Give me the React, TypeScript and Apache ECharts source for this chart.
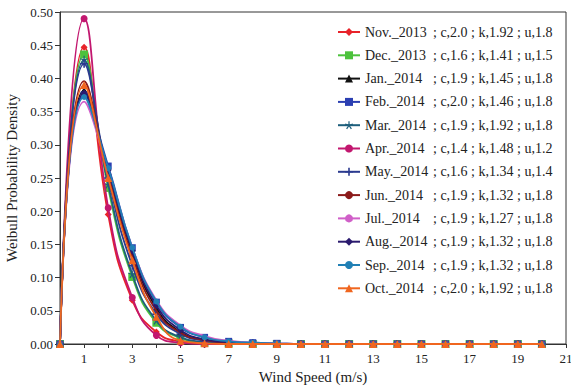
import React, { useEffect, useRef } from "react";
import * as echarts from "echarts";

const windSpeed = [0, 1, 2, 3, 4, 5, 6, 7, 8, 9, 10, 11, 12, 13, 14, 15, 16, 17, 18, 19, 20];

const seriesNames = [
  "Nov._2013", "Dec._2013", "Jan._2014", "Feb._2014", "Mar._2014", "Apr._2014",
  "May._2014", "Jun._2014", "Jul._2014", "Aug._2014", "Sep._2014", "Oct._2014",
];
const seriesParams = [
  "; c,2.0 ; k,1.92 ; u,1.8", "; c,1.6 ; k,1.41 ; u,1.5", "; c,1.9 ; k,1.45 ; u,1.8",
  "; c,2.0 ; k,1.46 ; u,1.8", "; c,1.9 ; k,1.92 ; u,1.8", "; c,1.4 ; k,1.48 ; u,1.2",
  "; c,1.6 ; k,1.34 ; u,1.4", "; c,1.9 ; k,1.32 ; u,1.8", "; c,1.9 ; k,1.27 ; u,1.8",
  "; c,1.9 ; k,1.32 ; u,1.8", "; c,1.9 ; k,1.32 ; u,1.8", "; c,2.0 ; k,1.92 ; u,1.8",
];

const nov2013 = [0, 0.447, 0.195, 0.066, 0.018, 0.004, 0.001, 0, 0, 0, 0, 0, 0, 0, 0, 0, 0, 0, 0, 0, 0];
const dec2013 = [0, 0.436, 0.235, 0.101, 0.032, 0.009, 0.002, 0.001, 0, 0, 0, 0, 0, 0, 0, 0, 0, 0, 0, 0, 0];
const jan2014 = [0, 0.382, 0.260, 0.138, 0.054, 0.018, 0.006, 0.002, 0.001, 0, 0, 0, 0, 0, 0, 0, 0, 0, 0, 0, 0];
const feb2014 = [0, 0.375, 0.268, 0.145, 0.063, 0.025, 0.010, 0.004, 0.002, 0.001, 0, 0, 0, 0, 0, 0, 0, 0, 0, 0, 0];
const mar2014 = [0, 0.428, 0.240, 0.105, 0.035, 0.010, 0.003, 0.001, 0, 0, 0, 0, 0, 0, 0, 0, 0, 0, 0, 0, 0];
const apr2014 = [0, 0.490, 0.205, 0.070, 0.013, 0.002, 0, 0, 0, 0, 0, 0, 0, 0, 0, 0, 0, 0, 0, 0, 0];
const may2014 = [0, 0.422, 0.250, 0.118, 0.045, 0.015, 0.005, 0.002, 0.001, 0, 0, 0, 0, 0, 0, 0, 0, 0, 0, 0, 0];
const jun2014 = [0, 0.396, 0.255, 0.132, 0.050, 0.017, 0.006, 0.002, 0.001, 0, 0, 0, 0, 0, 0, 0, 0, 0, 0, 0, 0];
const jul2014 = [0, 0.365, 0.262, 0.145, 0.066, 0.028, 0.012, 0.005, 0.002, 0.001, 0, 0, 0, 0, 0, 0, 0, 0, 0, 0, 0];
const aug2014 = [0, 0.378, 0.262, 0.140, 0.058, 0.021, 0.007, 0.003, 0.001, 0, 0, 0, 0, 0, 0, 0, 0, 0, 0, 0, 0];
const sep2014 = [0, 0.372, 0.265, 0.145, 0.064, 0.026, 0.010, 0.004, 0.002, 0.001, 0, 0, 0, 0, 0, 0, 0, 0, 0, 0, 0];
const oct2014 = [0, 0.390, 0.250, 0.126, 0.041, 0.005, 0.001, 0, 0, 0, 0, 0, 0, 0, 0, 0, 0, 0, 0, 0, 0];

const seriesValues = [nov2013, dec2013, jan2014, feb2014, mar2014, apr2014, may2014, jun2014, jul2014, aug2014, sep2014, oct2014];

const xTickLabels = ["1", "3", "5", "7", "9", "11", "13", "15", "17", "19", "21"];

const PLUS = "path://M4,0H6V4H10V6H6V10H4V6H0V4H4Z";
const STAR = "path://M4.3,0H5.7V3.8L9.3,2.6L9.7,3.9L6.1,5L8.4,8.1L7.2,8.9L5,5.8L2.8,8.9L1.6,8.1L3.9,5L0.3,3.9L0.7,2.6L4.3,3.8Z";

const styles = [
  { color: "#e8232a", symbol: "diamond", size: 7 },
  { color: "#4cc23c", symbol: "rect", size: 8 },
  { color: "#111111", symbol: "triangle", size: 7 },
  { color: "#2b3fb2", symbol: "rect", size: 7 },
  { color: "#1d5f7c", symbol: STAR, size: 8 },
  { color: "#c2176f", symbol: "circle", size: 7 },
  { color: "#2b3a8f", symbol: PLUS, size: 8 },
  { color: "#8b1a1a", symbol: "none", size: 0 },
  { color: "#d05fc8", symbol: "none", size: 0 },
  { color: "#2a1a6e", symbol: "diamond", size: 7 },
  { color: "#2180b5", symbol: "circle", size: 6 },
  { color: "#f0661f", symbol: "triangle", size: 8 },
];

const FONT = "Liberation Serif";

export default function App() {
  const ref = useRef<HTMLDivElement>(null);
  useEffect(() => {
    if (!ref.current) return;
    const chart = echarts.init(ref.current, undefined, { renderer: "svg" });
    const series = seriesNames.map((name, i) => ({
      name,
      type: "line",
      smooth: true,
      data: windSpeed.map((x, j) => [x, seriesValues[i][j]]),
      symbol: styles[i].symbol,
      symbolSize: styles[i].size,
      showSymbol: styles[i].symbol !== "none",
      lineStyle: { color: styles[i].color, width: 1.8 },
      itemStyle: { color: styles[i].color },
      z: 2 + i,
    }));
    const paramMap: Record<string, string> = {};
    seriesNames.forEach((n, i) => (paramMap[n] = seriesParams[i]));
    chart.setOption({
      animation: false,
      backgroundColor: "#ffffff",
      grid: {
        left: 60, right: 5, top: 12, bottom: 43,
        outerBoundsMode: "none",
        containLabel: false,
        show: true, borderColor: "#333", borderWidth: 1,
      },
      legend: {
        orient: "vertical",
        left: 337,
        top: 25,
        padding: 0,
        itemWidth: 22,
        itemHeight: 10,
        itemGap: 9.3,
        data: seriesNames,
        formatter: (n: string) => `{a|${n}}{b|${paramMap[n]}}`,
        textStyle: {
          fontFamily: FONT,
          fontSize: 14,
          color: "#222",
          lineHeight: 14,
          rich: {
            a: { width: 68, fontFamily: FONT, fontSize: 14, color: "#222", lineHeight: 14 },
            b: { fontFamily: FONT, fontSize: 14, color: "#222", lineHeight: 14 },
          },
        },
      },
      xAxis: {
        type: "value",
        min: 0,
        max: 21,
        interval: 1,
        name: "Wind Speed (m/s)",
        nameLocation: "middle",
        nameGap: 25,
        nameTextStyle: { fontFamily: FONT, fontSize: 15, color: "#222" },
        axisLine: { lineStyle: { color: "#333" } },
        axisTick: { show: true, length: 4, lineStyle: { color: "#333" } },
        splitLine: { show: false },
        axisLabel: {
          fontFamily: FONT,
          fontSize: 13,
          color: "#222",
          margin: 8,
          formatter: (v: number) => (xTickLabels.includes(String(v)) ? String(v) : ""),
        },
      },
      yAxis: {
        type: "value",
        min: 0,
        max: 0.5,
        interval: 0.05,
        name: "Weibull Probability Density",
        nameLocation: "middle",
        nameGap: 40,
        nameTextStyle: { fontFamily: FONT, fontSize: 15, color: "#222" },
        axisLine: { show: true, lineStyle: { color: "#333" } },
        axisTick: { show: true, length: 5, lineStyle: { color: "#333" } },
        splitLine: { show: false },
        axisLabel: {
          fontFamily: FONT,
          fontSize: 13,
          color: "#222",
          margin: 7,
          formatter: (v: number) => v.toFixed(2),
        },
      },
      series,
    });
    return () => chart.dispose();
  }, []);
  return (
    <div
      ref={ref}
      style={{ position: "fixed", left: 0, top: 0, width: 571, height: 387 }}
    />
  );
}
